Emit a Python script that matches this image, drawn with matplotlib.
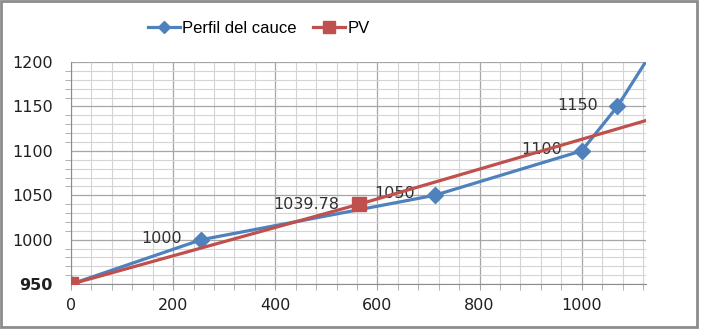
import numpy as np
import matplotlib.pyplot as plt
from matplotlib.ticker import MultipleLocator

# data
perfil_x = [0, 255, 712, 1000, 1070, 1125]
perfil_y = [950, 1000, 1050, 1100, 1150, 1200]
perfil_lbl = ['', '1000', '1050', '1100', '1150', '']

pv_x = [0, 563, 1125]
pv_y = [950, 1039.78, 1134]
pv_lbl = ['', '1039.78', '']

blue = '#4F81BD'
red = '#C0504D'

fig = plt.figure(figsize=(7.11, 3.30), dpi=100)
ax = fig.add_axes([0.0999, 0.139, 0.808, 0.673])

ax.plot(perfil_x, perfil_y, color=blue, lw=2.3, marker='D', ms=8,
        markevery=[0, 1, 2, 3, 4], label='Perfil del cauce', zorder=3)
ax.plot(pv_x, pv_y, color=red, lw=2.3, marker='s', ms=10,
        markevery=[0, 1], label='PV', zorder=4)

# data labels sit to the left of the markers
for x, y, t in zip(perfil_x, perfil_y, perfil_lbl):
    if t:
        ax.annotate(t, (x, y), xytext=(-14, 1), textcoords='offset points',
                    ha='right', va='center', fontsize=11.5, color='#303030')
for x, y, t in zip(pv_x, pv_y, pv_lbl):
    if t:
        ax.annotate(t, (x, y), xytext=(-14, 0), textcoords='offset points',
                    ha='right', va='center', fontsize=11.5, color='#303030')

ax.set_xlim(0, 1125)
ax.set_ylim(950, 1200)
ax.xaxis.set_major_locator(MultipleLocator(200))
ax.xaxis.set_minor_locator(MultipleLocator(40))
ax.yaxis.set_major_locator(MultipleLocator(50))
ax.yaxis.set_minor_locator(MultipleLocator(10))
ax.grid(which='major', color='#A6A6A6', lw=0.9)
ax.grid(which='minor', color='#D4D4D4', lw=0.8)
ax.set_axisbelow(True)

for s in ['top', 'right']:
    ax.spines[s].set_visible(False)
ax.spines['left'].set_color('#8C8C8C')
ax.spines['bottom'].set_color('#8C8C8C')
ax.tick_params(which='both', length=4, color='#A6A6A6', labelsize=11.5,
               labelcolor='#202020')
ax.tick_params(axis='y', length=0, pad=13)
ax.tick_params(axis='x', which='major', pad=6)
for lab in ax.get_yticklabels():
    if lab.get_text() == '950':
        lab.set_fontweight('bold')

leg = fig.legend(loc='center', bbox_to_anchor=(0.364, 0.915), ncol=2,
                 frameon=False, handlelength=1.9, columnspacing=1.0,
                 handletextpad=0.15, markerscale=0.8,
                 prop={'family': ['Liberation Sans', 'DejaVu Sans'],
                       'size': 12})

# gray frame around the chart area
fig.patches.append(plt.Rectangle((0.002, 0.008), 0.978, 0.988,
                                 transform=fig.transFigure, fill=False,
                                 edgecolor='#8C8C8C', lw=2))

fig.savefig('out.png', dpi=100)
